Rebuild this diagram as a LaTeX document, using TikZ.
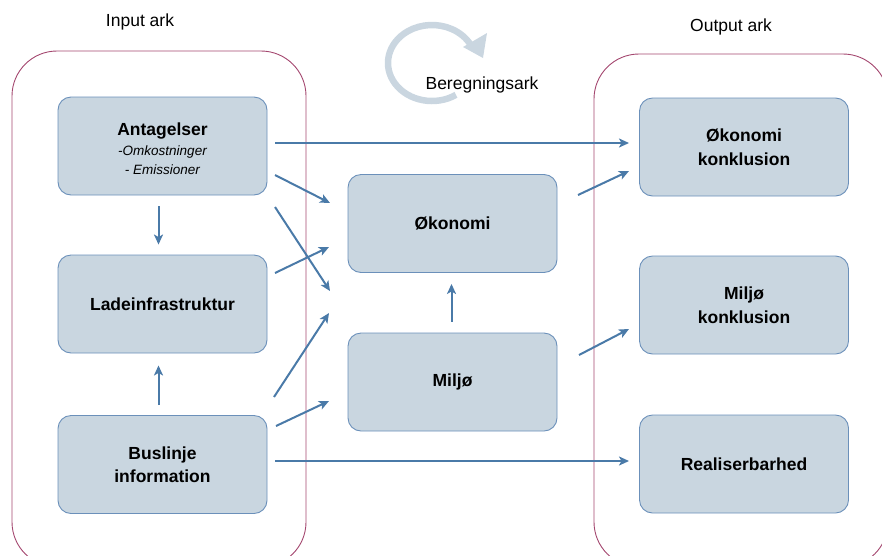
\documentclass[tikz,border=0pt]{standalone}
\usepackage{fontspec}
\setmainfont{Liberation Sans}
\usetikzlibrary{arrows.meta,calc}
\definecolor{arrowc}{HTML}{4A7AA8}
\definecolor{boxfill}{HTML}{C9D6E0}
\definecolor{boxdraw}{HTML}{6B90BA}
\definecolor{contc}{HTML}{A3466E}
\definecolor{cyclec}{HTML}{CAD6E0}
\newcommand{\smallit}{\mdseries\itshape\fontsize{13.5}{19}\selectfont}
\begin{document}
\begin{tikzpicture}[x=1pt,y=-1pt,
  box/.style={draw=boxdraw, fill=boxfill, rounded corners=13pt, minimum width=209pt, minimum height=98pt, line width=0.9pt, align=center, inner sep=0pt, font=\bfseries\fontsize{17.5}{23.5}\selectfont},
  conn/.style={draw=arrowc, line width=2pt, -{Stealth[length=10pt,width=9pt,inset=2.5pt]}},
  cont/.style={draw=contc, line width=0.9pt, rounded corners=45pt},
  title/.style={font=\fontsize{17.5}{21}\selectfont}]
\useasboundingbox (0,0) rectangle (882,555);
\clip (0,0) rectangle (882,555);
% containers
\draw[cont] (12,51) rectangle (306,567);
\draw[cont] (594,54) rectangle (888,567);
\node[title] (tin) at (140,22) {Input ark};
\node[title] (tout) at (731,27) {Output ark};
% cycle
\draw[cyclec, line width=6.5pt] (432,63) ++(57:44 and 38) arc[start angle=57, end angle=331, x radius=44, y radius=38];
\fill[cyclec] (463,47) -- (487,33) -- (483,58) -- cycle;
\node[title, anchor=center] (beregn) at (482,85) {Beregningsark};
% boxes
\node[box] (ant) at (162.5,146) {\rule{0pt}{19pt}Antagelser\\[-4pt]\smallit -Omkostninger\\[-4pt]\smallit - Emissioner};
\node[box] (lade) at (162.5,304) {Ladeinfrastruktur};
\node[box] (bus) at (162.5,464.5) {Buslinje\\information};
\node[box] (oko) at (452.5,223.5) {Økonomi};
\node[box] (mil) at (452.5,382) {Miljø};
\node[box] (okk) at (744,147) {Økonomi\\konklusion};
\node[box] (milk) at (744,305) {Miljø\\konklusion};
\node[box] (real) at (744,464) {Realiserbarhed};
% connector ends
\coordinate (a1) at (275,143); \coordinate (b1) at (629,143);
\coordinate (a2) at (275,175); \coordinate (b2) at (330,203);
\coordinate (a3) at (275,207); \coordinate (b3) at (330,291);
\coordinate (a4) at (275,273); \coordinate (b4) at (329,247);
\coordinate (a5) at (274,397); \coordinate (b5) at (329,313);
\coordinate (a6) at (276,426); \coordinate (b6) at (329,401);
\coordinate (a7) at (275,461); \coordinate (b7) at (629,461);
\coordinate (a8) at (578,195); \coordinate (b8) at (629,171);
\coordinate (a9) at (579,355); \coordinate (b9) at (629,329);
% connectors
\draw[conn] (a1) -- (b1);
\draw[conn] (a2) -- (b2);
\draw[conn] (a3) -- (b3);
\draw[conn] (a4) -- (b4);
\draw[conn] (a5) -- (b5);
\draw[conn] (a6) -- (b6);
\draw[conn] (a7) -- (b7);
\draw[conn] (a8) -- (b8);
\draw[conn] (a9) -- (b9);
\draw[conn] ($(ant.south)+(-4,11)$) -- ($(lade.north)+(-4,-10)$);
\draw[conn] ($(bus.north)+(-4,-10)$) -- ($(lade.south)+(-4,12)$);
\draw[conn] ($(mil.north)+(-1,-11)$) -- ($(oko.south)+(-1,11)$);
\end{tikzpicture}
\end{document}
